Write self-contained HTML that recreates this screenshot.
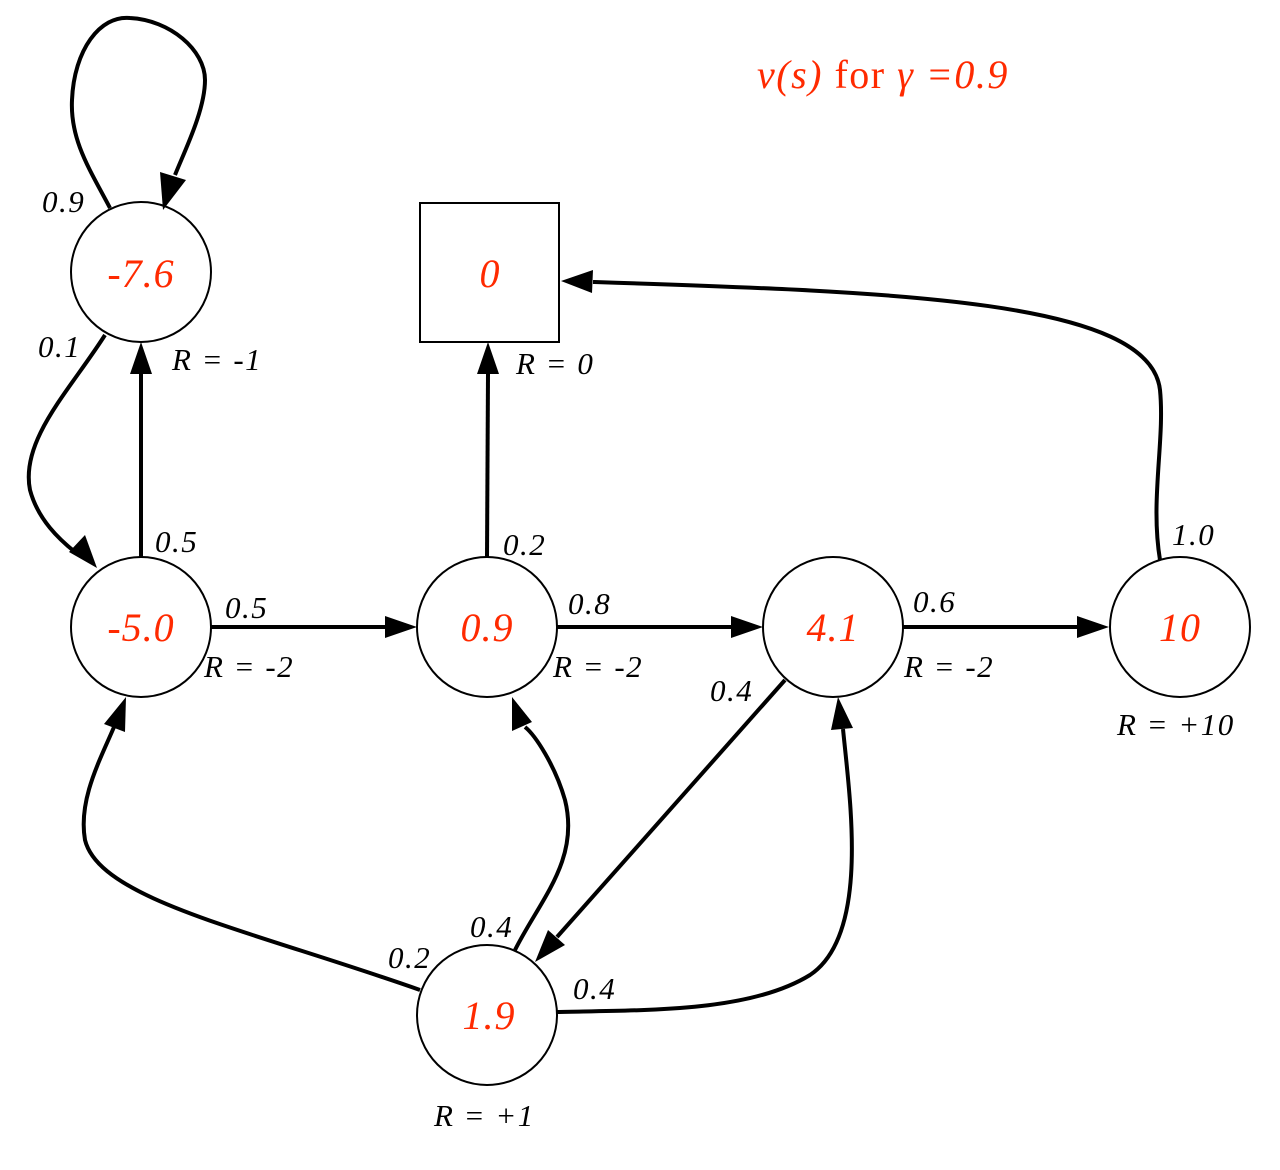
<!DOCTYPE html>
<html><head><meta charset="utf-8"><style>
html,body{margin:0;padding:0;background:#fff;}
svg{display:block;}
.v{font-family:"Liberation Serif",serif;font-style:italic;font-size:40px;letter-spacing:1px;fill:#ff2a00;}
.t{font-family:"Liberation Serif",serif;font-style:italic;font-size:40px;letter-spacing:1.5px;fill:#ff2a00;}
.l{font-family:"Liberation Serif",serif;font-style:italic;font-size:31px;letter-spacing:1.5px;fill:#000;}
.e{fill:none;stroke:#000;stroke-width:4;}
</style></head><body>
<svg width="1280" height="1170" viewBox="0 0 1280 1170" xmlns="http://www.w3.org/2000/svg">
<g fill="#fff" stroke="#000" stroke-width="2">
<circle cx="141" cy="272" r="70"/>
<circle cx="141" cy="627" r="70"/>
<circle cx="487" cy="627" r="70"/>
<circle cx="833" cy="627" r="70"/>
<circle cx="1180" cy="627" r="70"/>
<circle cx="487" cy="1015" r="70"/>
<rect x="420" y="203" width="139" height="139"/>
</g>
<g class="e">
<path d="M110,208 C90,170 70,140 72,100 C74,50 100,15 130,18 C170,20 205,50 205,80 C205,110 185,150 175,175"/>
<path d="M105,335 C70,390 20,440 30,490 C38,520 60,540 75,552"/>
<path d="M141,557 L141,374"/>
<path d="M211,627 L385,627"/>
<path d="M487,557 L488,374"/>
<path d="M557,627 L731,627"/>
<path d="M903,627 L1077,627"/>
<path d="M1160,560 C1150,500 1165,440 1160,390 C1150,300 900,292 593,282"/>
<path d="M785,680 L557,937"/>
<path d="M420,990 C250,930 100,900 85,840 C78,800 100,760 114,727"/>
<path d="M515,950 C540,900 580,860 565,800 C555,765 535,735 525,727"/>
<path d="M557,1012 C650,1010 750,1012 810,975 C870,935 850,800 843,729"/>
</g>
<g fill="#000">
<polygon points="163,210 160,172 186,180"/>
<polygon points="97,568 69,552 85,535"/>
<polygon points="141,342 130,374 152,374"/>
<polygon points="417,627 385,616 385,638"/>
<polygon points="488,342 477,374 499,374"/>
<polygon points="763,627 731,616 731,638"/>
<polygon points="1109,627 1077,616 1077,638"/>
<polygon points="561,281 593,270 592,293"/>
<polygon points="535,962 548,930 565,945"/>
<polygon points="126,697 104,724 125,732"/>
<polygon points="512,697 512,731 532,722"/>
<polygon points="838,697 831,730 853,728"/>
</g>
<text class="v" x="141" y="287" text-anchor="middle">-7.6</text>
<text class="v" x="141" y="641" text-anchor="middle">-5.0</text>
<text class="v" x="487" y="641" text-anchor="middle">0.9</text>
<text class="v" x="833" y="641" text-anchor="middle">4.1</text>
<text class="v" x="1180" y="641" text-anchor="middle">10</text>
<text class="v" x="489" y="1029" text-anchor="middle">1.9</text>
<text class="v" x="490" y="287" text-anchor="middle">0</text>
<text class="t" x="757" y="88">v(s) <tspan style="font-style:normal">for</tspan> γ =0.9</text>
<g class="l">
<text x="42" y="212">0.9</text>
<text x="38" y="357">0.1</text>
<text x="172" y="370">R = -1</text>
<text x="516" y="374">R = 0</text>
<text x="155" y="552">0.5</text>
<text x="225" y="618">0.5</text>
<text x="204" y="677">R = -2</text>
<text x="503" y="555">0.2</text>
<text x="568" y="614">0.8</text>
<text x="553" y="677">R = -2</text>
<text x="913" y="612">0.6</text>
<text x="904" y="677">R = -2</text>
<text x="1172" y="545">1.0</text>
<text x="1117" y="735">R = +10</text>
<text x="710" y="701">0.4</text>
<text x="470" y="937">0.4</text>
<text x="388" y="968">0.2</text>
<text x="573" y="999">0.4</text>
<text x="434" y="1126">R = +1</text>
</g>
</svg>
</body></html>
